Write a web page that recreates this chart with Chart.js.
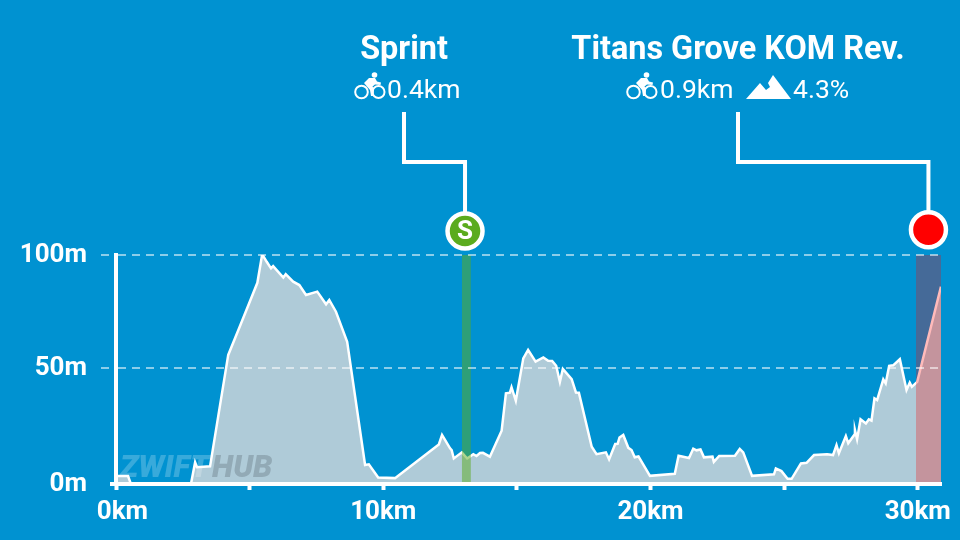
<!DOCTYPE html>
<html lang="en">
<head>
  <meta charset="UTF-8">
  <title>Route profile</title>
  <script src="https://cdn.jsdelivr.net/npm/chart.js"></script>
  <style>
    html, body { margin: 0; padding: 0; background: #0092d1; }
    canvas { display: block; }
  </style>
</head>
<body>
  <canvas id="profile" width="960" height="540"></canvas>

  <script>
    const distKm = [0, 0.45, 0.55, 2.81, 2.96, 3.03, 3.52, 4.20, 4.64, 5.29, 5.47, 5.64, 5.80, 5.88, 6.26, 6.35, 6.63, 6.86, 7.11, 7.53,
      7.86, 7.98, 8.23, 8.65, 9.32, 9.46, 9.81, 10.44, 12.08, 12.20, 12.50, 12.56, 12.64, 12.94, 13.14, 13.37, 13.49, 13.62, 13.73, 13.99,
      14.43, 14.59, 14.74, 14.80, 14.96, 15.24, 15.42, 15.70, 15.99, 16.17, 16.32, 16.47, 16.61, 16.72, 17.05, 17.21, 17.32, 17.80, 17.98, 18.33,
      18.45, 18.68, 18.77, 18.84, 18.98, 19.17, 19.29, 19.41, 19.55, 19.98, 20.91, 21.05, 21.44, 21.60, 21.72, 21.87, 22.00, 22.32, 22.37, 22.57,
      23.16, 23.34, 23.47, 23.80, 24.62, 24.69, 24.90, 25.13, 25.28, 25.63, 25.84, 26.12, 26.61, 26.83, 26.96, 27.05, 27.31, 27.40, 27.62, 27.65,
      27.73, 27.86, 28.06, 28.17, 28.27, 28.38, 28.48, 28.71, 28.80, 28.93, 29.08, 29.33, 29.58, 29.70, 29.78, 29.98, 30.87];
    const elevM = [2.2, 2.2, -1.0, -1.0, 8.3, 6.1, 6.5, 55.8, 68.6, 87.7, 100.3, 97.0, 94.1, 95.1, 90.0, 91.5, 88.2, 86.7, 82.3, 83.8,
      78.2, 80.1, 74.9, 61.6, 7.1, 7.4, 1.6, 1.3, 16.2, 20.4, 14.5, 13.7, 10.0, 12.7, 10.0, 11.9, 11.1, 12.4, 12.5, 10.8,
      22.3, 38.8, 39.1, 41.5, 35.5, 54.3, 58.0, 52.8, 54.7, 53.2, 53.1, 51.0, 43.9, 49.6, 45.1, 39.2, 39.1, 15.2, 11.9, 12.7,
      9.6, 16.4, 16.5, 19.3, 20.4, 14.7, 13.7, 10.5, 10.9, 2.3, 3.2, 11.2, 10.2, 14.3, 13.6, 14.0, 10.5, 10.8, 8.5, 11.1,
      11.2, 14.2, 12.7, 2.3, 3.0, 5.6, 4.4, 1.0, 1.0, 7.8, 8.1, 11.5, 11.9, 11.5, 15.9, 12.3, 19.9, 16.7, 20.4, 22.6,
      18.5, 27.3, 25.5, 27.3, 26.7, 36.6, 35.8, 45.0, 43.2, 51.0, 51.2, 53.9, 40.3, 43.5, 41.7, 43.9, 86.0];

    const sprintBandKm = [12.94, 13.28];
    const komBandKm = [29.93, 30.87];
    const bandTopM = [100, 100];
    const markerKm = [13.06, 30.40];
    const markerM = [110.6, 111.2];
    const markerColors = ['#5bab1e', '#ff0000'];

    const xTickKm = [0, 5, 10, 15, 20, 25, 30];
    const xTickLabels = { 0: '  0km', 10: '10km', 20: '20km', 30: '30km' };
    const yBottom = -1.3; // the baseline sits a little under the real 0m
    const yTickValues = [yBottom, 50, 100];
    const yTickLabels = ['0m', '50m', '100m'];

    const pairs = (xs, ys) => xs.map((x, i) => ({ x: x, y: ys[i] }));

    function drawBike(ctx, x) {
      ctx.save();
      ctx.strokeStyle = '#fff';
      ctx.fillStyle = '#fff';
      ctx.lineWidth = 2;
      ctx.beginPath(); ctx.arc(x + 7.5, 92, 6.3, 0, Math.PI * 2); ctx.stroke();
      ctx.beginPath(); ctx.arc(x + 24.5, 92, 6, 0, Math.PI * 2); ctx.stroke();
      ctx.beginPath(); ctx.arc(x + 20.5, 75, 2.8, 0, Math.PI * 2); ctx.fill();
      ctx.beginPath();
      ctx.moveTo(x + 10, 83); ctx.lineTo(x + 15, 78); ctx.lineTo(x + 21, 78);
      ctx.lineTo(x + 23, 81.5); ctx.lineTo(x + 27, 82.5); ctx.lineTo(x + 26.5, 85);
      ctx.lineTo(x + 21, 84.5); ctx.lineTo(x + 18.5, 86.5); ctx.lineTo(x + 20, 89);
      ctx.lineTo(x + 19.5, 96); ctx.lineTo(x + 17, 96); ctx.lineTo(x + 16, 90);
      ctx.closePath();
      ctx.fill();
      ctx.restore();
    }

    function drawMountain(ctx, x) {
      ctx.save();
      ctx.fillStyle = '#fff';
      ctx.beginPath();
      ctx.moveTo(x, 99); ctx.lineTo(x + 14, 83); ctx.lineTo(x + 20, 90);
      ctx.lineTo(x + 24, 87); ctx.lineTo(x + 22, 83); ctx.lineTo(x + 27, 75);
      ctx.lineTo(x + 45, 99);
      ctx.closePath();
      ctx.fill();
      ctx.restore();
    }

    const annotations = {
      id: 'annotations',
      afterDraw(chart) {
        const ctx = chart.ctx;
        const xs = chart.scales.x;
        const ys = chart.scales.y;
        const mx = markerKm.map(v => xs.getPixelForValue(v));
        const my = markerM.map(v => ys.getPixelForValue(v));
        ctx.save();

        // watermark
        ctx.textAlign = 'left';
        ctx.textBaseline = 'alphabetic';
        ctx.font = 'italic 900 31px Roboto';
        ctx.fillStyle = 'rgba(255,255,255,0.22)';
        ctx.fillText('ZWIFT', 120, 477);
        ctx.fillStyle = 'rgba(60,70,80,0.25)';
        ctx.fillText('HUB', 212, 477);

        // connectors
        ctx.strokeStyle = '#fff';
        ctx.lineWidth = 4;
        ctx.beginPath();
        ctx.moveTo(404, 112); ctx.lineTo(404, 162); ctx.lineTo(mx[0], 162); ctx.lineTo(mx[0], my[0]);
        ctx.moveTo(738, 112); ctx.lineTo(738, 162); ctx.lineTo(mx[1], 162); ctx.lineTo(mx[1], my[1]);
        ctx.stroke();

        // markers
        ctx.lineWidth = 4.5;
        mx.forEach((x, i) => {
          ctx.beginPath();
          ctx.arc(x, my[i], 17.5, 0, Math.PI * 2);
          ctx.fillStyle = markerColors[i];
          ctx.fill();
          ctx.stroke();
        });
        ctx.fillStyle = '#fff';
        ctx.font = '700 26px Roboto';
        ctx.textAlign = 'center';
        ctx.textBaseline = 'middle';
        ctx.fillText('S', mx[0], my[0] + 1);

        // headings
        ctx.textBaseline = 'alphabetic';
        ctx.font = '700 32.4px Roboto';
        ctx.fillText('Sprint', 404, 59);
        ctx.fillText('Titans Grove KOM Rev.', 738, 59);
        ctx.textAlign = 'left';
        ctx.font = '400 26.5px Roboto';
        ctx.fillText('0.4km', 387, 98);
        ctx.fillText('0.9km', 660, 98);
        ctx.fillText('4.3%', 793, 98);
        drawBike(ctx, 354);
        drawBike(ctx, 626);
        drawMountain(ctx, 746);
        ctx.restore();
      }
    };

    new Chart(document.getElementById('profile').getContext('2d'), {
      type: 'line',
      data: {
        datasets: [
          {
            label: 'KOM',
            order: 1,
            data: pairs(komBandKm, bandTopM),
            fill: 'start',
            backgroundColor: 'rgba(255,0,0,0.27)',
            borderWidth: 0,
            pointRadius: 0
          },
          {
            label: 'Sprint',
            order: 2,
            data: pairs(sprintBandKm, bandTopM),
            fill: 'start',
            backgroundColor: 'rgba(91,171,30,0.5)',
            borderWidth: 0,
            pointRadius: 0
          },
          {
            label: 'Elevation',
            order: 3,
            data: pairs(distKm, elevM),
            fill: 'start',
            backgroundColor: '#afcbd8',
            borderColor: '#fff',
            borderWidth: 2.5,
            tension: 0,
            pointRadius: 0
          }
        ]
      },
      options: {
        responsive: false,
        animation: false,
        layout: { padding: { top: 255, right: 19, left: 0, bottom: 0 } },
        plugins: { legend: { display: false }, tooltip: { enabled: false } },
        scales: {
          x: {
            type: 'linear',
            min: 0,
            max: 30.87,
            afterFit(scale) { scale.height = 56; scale.paddingLeft = 0; scale.paddingRight = 0; },
            afterBuildTicks(scale) { scale.ticks = xTickKm.map(v => ({ value: v })); },
            border: { color: '#fff', width: 4, z: 2 },
            grid: { drawOnChartArea: false, drawTicks: true, tickLength: 6, tickWidth: 4, tickColor: '#fff' },
            ticks: {
              autoSkip: false,
              maxRotation: 0,
              padding: 7,
              color: '#fff',
              font: { family: 'Roboto', size: 26, weight: '700' },
              callback: v => xTickLabels[v] || ''
            }
          },
          y: {
            type: 'linear',
            min: yBottom,
            max: 100,
            afterFit(scale) { scale.width = 116; scale.paddingTop = 0; scale.paddingBottom = 0; },
            afterBuildTicks(scale) { scale.ticks = yTickValues.map(v => ({ value: v })); },
            border: { color: '#fff', width: 4, z: 2, dash: [8, 6] },
            grid: {
              z: 1,
              lineWidth: 2,
              color: c => c.tick && c.tick.value === yBottom ? 'transparent' : 'rgba(255,255,255,0.55)',
              tickLength: 15,
              tickWidth: c => c.tick && c.tick.value === yBottom ? 4 : 2,
              tickColor: c => c.tick && c.tick.value === yBottom ? '#fff' : 'rgba(255,255,255,0.55)',
              tickBorderDash: c => c.tick && c.tick.value === yBottom ? [0, 9, 7, 9] : [8, 6]
            },
            ticks: {
              padding: 14,
              color: '#fff',
              font: { family: 'Roboto', size: 26, weight: '700' },
              callback: v => yTickLabels[yTickValues.indexOf(v)]
            }
          }
        }
      },
      plugins: [annotations]
    });
  </script>
</body>
</html>
